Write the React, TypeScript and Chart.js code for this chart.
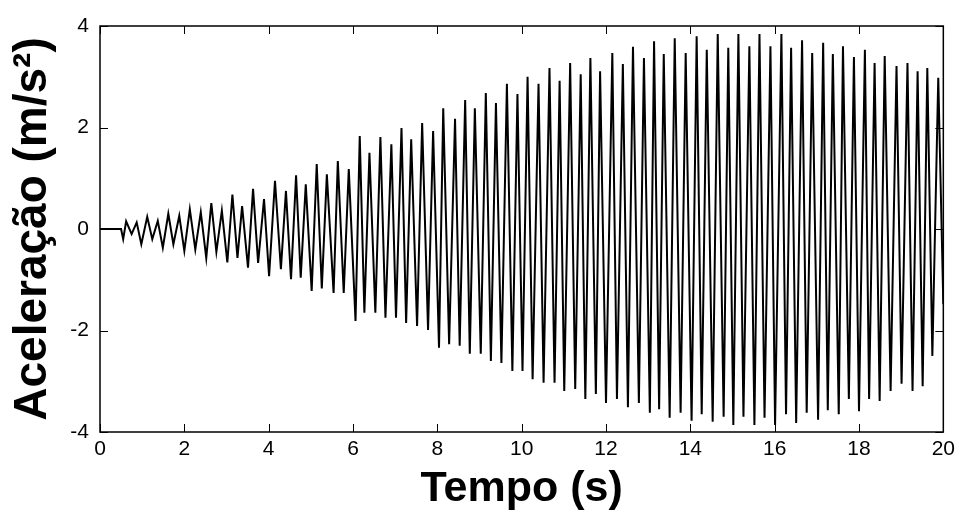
import React, { useEffect, useRef } from "react";
import { Chart, registerables } from "chart.js";

Chart.register(...registerables);

// Axis ticks
const xTickValues = [0, 2, 4, 6, 8, 10, 12, 14, 16, 18, 20];
const yTickValues = [-4, -2, 0, 2, 4];

// Quiet lead-in before the excitation starts
const leadTimes = [0, 0.5];
const leadValues = [0, 0];

// Positive peaks of each cycle (s, m/s²)
const peakTimes = [
  0.62, 0.87, 1.12, 1.37, 1.62, 1.88, 2.13, 2.39, 2.64, 2.89,
  3.14, 3.37, 3.63, 3.89, 4.15, 4.41, 4.65, 4.88, 5.14, 5.38,
  5.64, 5.9, 6.16, 6.39, 6.65, 6.91, 7.15, 7.38, 7.64, 7.9,
  8.14, 8.42, 8.66, 8.89, 9.15, 9.39, 9.65, 9.9, 10.14, 10.4,
  10.66, 10.9, 11.15, 11.4, 11.63, 11.86, 12.15, 12.4, 12.64, 12.9,
  13.14, 13.37, 13.63, 13.89, 14.15, 14.39, 14.65, 14.9, 15.14, 15.4,
  15.64, 15.9, 16.16, 16.39, 16.65, 16.89, 17.15, 17.38, 17.62, 17.88,
  18.14, 18.37, 18.61, 18.89, 19.15, 19.39, 19.62, 19.88,
];
const peakValues = [
  0.15, 0.13, 0.24, 0.16, 0.3, 0.26, 0.39, 0.33, 0.51, 0.36,
  0.68, 0.45, 0.79, 0.59, 0.95, 0.75, 1.06, 0.88, 1.28, 1.08,
  1.34, 1.18, 1.83, 1.5, 1.81, 1.67, 1.99, 1.77, 2.09, 1.93,
  2.38, 2.17, 2.54, 2.38, 2.68, 2.48, 2.86, 2.66, 3.0, 2.86,
  3.17, 2.92, 3.27, 3.05, 3.37, 3.11, 3.47, 3.25, 3.59, 3.37,
  3.7, 3.45, 3.76, 3.47, 3.8, 3.53, 3.84, 3.57, 3.84, 3.6,
  3.84, 3.6, 3.84, 3.57, 3.72, 3.47, 3.67, 3.45, 3.6, 3.39,
  3.53, 3.27, 3.41, 3.21, 3.27, 3.11, 3.17, 2.98,
];

// Negative peaks of each cycle (s, m/s²)
const troughTimes = [
  0.55, 0.75, 0.98, 1.24, 1.49, 1.74, 2.0, 2.26, 2.52, 2.76,
  3.02, 3.26, 3.51, 3.75, 4.01, 4.29, 4.53, 4.76, 5.02, 5.26,
  5.54, 5.78, 6.06, 6.27, 6.53, 6.77, 7.02, 7.26, 7.52, 7.78,
  8.04, 8.28, 8.53, 8.77, 9.03, 9.27, 9.52, 9.78, 10.02, 10.26,
  10.52, 10.78, 11.01, 11.27, 11.51, 11.76, 12.0, 12.26, 12.52, 12.78,
  13.04, 13.26, 13.51, 13.77, 14.03, 14.27, 14.53, 14.79, 15.02, 15.26,
  15.52, 15.76, 16.01, 16.27, 16.51, 16.76, 17.03, 17.26, 17.52, 17.76,
  18.0, 18.24, 18.49, 18.75, 19.01, 19.27, 19.51, 19.74, 20.0,
];
const troughValues = [
  -0.2, -0.1, -0.3, -0.2, -0.37, -0.3, -0.43, -0.4, -0.57, -0.45,
  -0.66, -0.57, -0.76, -0.67, -0.93, -0.79, -0.99, -0.96, -1.22, -1.17,
  -1.26, -1.26, -1.81, -1.65, -1.65, -1.75, -1.75, -1.85, -1.91, -1.99,
  -2.34, -2.27, -2.3, -2.46, -2.46, -2.6, -2.64, -2.8, -2.8, -2.96,
  -3.03, -3.03, -3.19, -3.15, -3.35, -3.25, -3.43, -3.35, -3.51, -3.43,
  -3.62, -3.55, -3.72, -3.62, -3.78, -3.65, -3.8, -3.7, -3.86, -3.7,
  -3.86, -3.72, -3.86, -3.65, -3.82, -3.62, -3.76, -3.57, -3.65, -3.35,
  -3.59, -3.35, -3.39, -3.19, -3.05, -3.19, -3.1, -2.5, -1.48,
];

const FONT = "'Liberation Sans', Arial, Helvetica, sans-serif";

function buildPoints() {
  const pts: { x: number; y: number }[] = [];
  leadTimes.forEach((t, i) => pts.push({ x: t, y: leadValues[i] }));
  peakTimes.forEach((t, i) => pts.push({ x: t, y: peakValues[i] }));
  troughTimes.forEach((t, i) => pts.push({ x: t, y: troughValues[i] }));
  pts.sort((a, b) => a.x - b.x);
  return pts;
}

const framePlugin = {
  id: "matlabFrame",
  afterDatasetsDraw(chart: any) {
    const { ctx, chartArea, scales } = chart;
    const { left, right, top, bottom } = chartArea;
    const tl = 8;
    ctx.save();
    ctx.strokeStyle = "#000";
    ctx.lineWidth = 1;
    ctx.beginPath();
    xTickValues.forEach((v) => {
      const px = Math.round(scales.x.getPixelForValue(v)) + 0.5;
      ctx.moveTo(px, bottom);
      ctx.lineTo(px, bottom - tl);
      ctx.moveTo(px, top);
      ctx.lineTo(px, top + tl);
    });
    yTickValues.forEach((v) => {
      const py = Math.round(scales.y.getPixelForValue(v)) + 0.5;
      ctx.moveTo(left, py);
      ctx.lineTo(left + tl, py);
      ctx.moveTo(right, py);
      ctx.lineTo(right - tl, py);
    });
    ctx.stroke();
    ctx.lineWidth = 1.5;
    ctx.strokeRect(left, top, right - left, bottom - top);
    ctx.restore();
  },
};

export default function App() {
  const ref = useRef<HTMLCanvasElement | null>(null);

  useEffect(() => {
    if (!ref.current) return;
    const chart = new Chart(ref.current, {
      type: "line",
      data: {
        datasets: [
          {
            data: buildPoints(),
            borderColor: "#000",
            borderWidth: 2,
            pointRadius: 0,
            tension: 0,
            fill: false,
          },
        ],
      },
      options: {
        animation: false,
        responsive: false,
        parsing: false as any,
        layout: { padding: { top: 26, right: 12, left: 0, bottom: 0 } },
        plugins: {
          legend: { display: false },
          tooltip: { enabled: false },
        },
        scales: {
          x: {
            type: "linear",
            min: 0,
            max: 20,
            afterBuildTicks: (s: any) => {
              s.ticks = xTickValues.map((v) => ({ value: v }));
            },
            afterFit: (s: any) => {
              s.height = 86;
            },
            grid: { display: false, drawTicks: false },
            border: { display: false },
            ticks: {
              color: "#000",
              padding: 5,
              maxRotation: 0,
              autoSkip: false,
              font: { family: FONT, size: 21 },
            },
            title: {
              display: true,
              text: "Tempo (s)",
              color: "#000",
              font: { family: FONT, size: 43, weight: "bold" },
              padding: { top: 0, bottom: 3 },
            },
          },
          y: {
            type: "linear",
            min: -4,
            max: 4,
            afterBuildTicks: (s: any) => {
              s.ticks = yTickValues.map((v) => ({ value: v }));
            },
            afterFit: (s: any) => {
              s.width = 100;
            },
            grid: { display: false, drawTicks: false },
            border: { display: false },
            ticks: {
              color: "#000",
              padding: 11,
              autoSkip: false,
              font: { family: FONT, size: 21 },
            },
            title: {
              display: true,
              text: "Aceleração (m/s²)",
              color: "#000",
              font: { family: FONT, size: 46, weight: "bold" },
              padding: { top: 6, bottom: 0 },
            },
          },
        },
      },
      plugins: [framePlugin],
    });
    return () => chart.destroy();
  }, []);

  return (
    <div style={{ position: "absolute", left: 0, top: 0, width: 960, height: 518, background: "#fff" }}>
      <canvas ref={ref} width={960} height={518} style={{ display: "block" }} />
    </div>
  );
}
